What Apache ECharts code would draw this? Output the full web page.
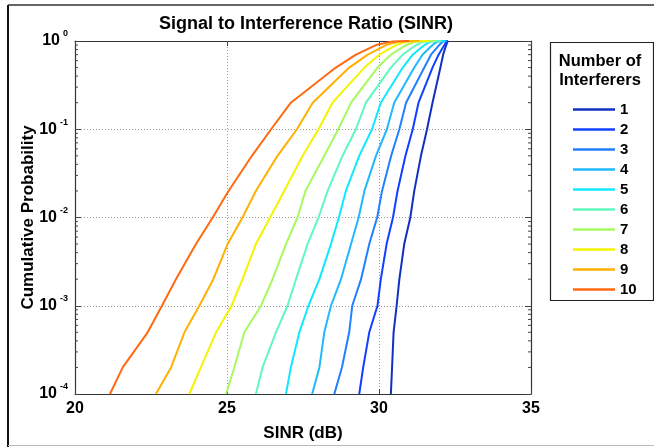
<!DOCTYPE html>
<html>
<head>
<meta charset="utf-8">
<script src="https://cdn.jsdelivr.net/npm/echarts@6/dist/echarts.min.js"></script>
<style>html,body{margin:0;padding:0;background:#fff;}#c{width:654px;height:447px;}</style>
</head>
<body>
<div id="c"></div>
<script>
// Cumulative probability levels at which the SINR of each curve was read
const PROB = [1e-4, 2e-4, 5e-4, 1e-3, 2e-3, 5e-3, 1e-2, 2e-2, 5e-2, 0.1, 0.2, 0.5, 0.7, 0.9, 0.99, 1];
// SINR (dB) for each number of interferers at those levels
const sinr1  = [30.39, 30.43, 30.48, 30.58, 30.67, 30.83, 31.03, 31.16, 31.38, 31.58, 31.76, 32.02, 32.11, 32.21, 32.26, 32.28];
const sinr2  = [29.35, 29.48, 29.68, 29.95, 30.06, 30.25, 30.46, 30.61, 30.87, 31.11, 31.30, 31.76, 31.96, 32.15, 32.22, 32.27];
const sinr3  = [28.53, 28.78, 29.02, 29.12, 29.41, 29.68, 29.94, 30.10, 30.40, 30.67, 30.89, 31.49, 31.71, 31.98, 32.11, 32.24];
const sinr4  = [27.80, 28.04, 28.20, 28.42, 28.75, 29.08, 29.33, 29.52, 29.90, 30.26, 30.50, 31.16, 31.43, 31.76, 31.93, 32.20];
const sinr5  = [26.94, 27.10, 27.38, 27.68, 28.04, 28.42, 28.68, 28.91, 29.35, 29.77, 30.06, 30.78, 31.11, 31.49, 31.71, 32.15];
const sinr6  = [25.95, 26.17, 26.61, 26.99, 27.27, 27.65, 28.01, 28.31, 28.80, 29.24, 29.57, 30.39, 30.78, 31.22, 31.49, 32.04];
const sinr7  = [24.97, 25.24, 25.57, 26.12, 26.50, 26.94, 27.32, 27.58, 28.20, 28.66, 29.08, 29.95, 30.39, 30.89, 31.22, 31.87];
const sinr8  = [23.76, 24.14, 24.64, 25.15, 25.51, 25.95, 26.42, 26.88, 27.49, 28.01, 28.47, 29.52, 30.01, 30.56, 30.94, 31.65];
const sinr9  = [22.66, 23.16, 23.60, 24.09, 24.55, 25.02, 25.51, 25.95, 26.66, 27.30, 27.82, 29.02, 29.63, 30.23, 30.67, 31.33];
const sinr10 = [21.15, 21.57, 22.39, 22.86, 23.32, 23.98, 24.53, 25.05, 25.82, 26.45, 27.10, 28.58, 29.24, 29.90, 30.45, 31.00];
const NAMES = ['1', '2', '3', '4', '5', '6', '7', '8', '9', '10'];
const X_TICKS = [20, 25, 30, 35];
const Y_MINOR = [2, 3, 4, 5, 6, 7, 8, 9];
const Y_DECADES = [1e-4, 1e-3, 1e-2, 1e-1];

const SERIES_VALUES = [sinr1, sinr2, sinr3, sinr4, sinr5, sinr6, sinr7, sinr8, sinr9, sinr10];
const COLORS = ['#1030c0', '#1040ff', '#2080ff', '#20b8ff', '#10e8ff', '#60f8c0', '#a8f860', '#f4f400', '#ffb000', '#ff6a10'];

const FONT = '"Liberation Sans", Arial, Helvetica, sans-serif';

const minorVals = [];
Y_DECADES.forEach(d => Y_MINOR.forEach(k => minorVals.push(d * k)));

const lineSeries = NAMES.map((n, i) => ({
  name: n,
  type: 'line',
  xAxisIndex: 0, yAxisIndex: 0,
  data: SERIES_VALUES[i].map((x, j) => [x, PROB[j]]),
  symbol: 'none',
  showSymbol: false,
  lineStyle: { width: 2, color: COLORS[i] },
  itemStyle: { color: COLORS[i] },
  z: 3 + i,
  animation: false
}));

const minorTickSeries = {
  type: 'custom',
  xAxisIndex: 0, yAxisIndex: 0,
  silent: true,
  animation: false,
  clip: false,
  data: minorVals.map(v => [X_TICKS[0], v]),
  renderItem: function (params, api) {
    const v = api.value(1);
    const pl = api.coord([X_TICKS[0], v]);
    const pr = api.coord([X_TICKS[X_TICKS.length - 1], v]);
    const st = { stroke: '#444', lineWidth: 1 };
    return {
      type: 'group',
      children: [
        { type: 'line', shape: { x1: pl[0], y1: pl[1], x2: pl[0] + 3, y2: pl[1] }, style: st },
        { type: 'line', shape: { x1: pr[0], y1: pr[1], x2: pr[0] - 3, y2: pr[1] }, style: st }
      ]
    };
  },
  z: 20
};

const axisLineStyle = { color: '#333', width: 1.2 };

const option = {
  backgroundColor: '#fff',
  animation: false,
  title: {
    text: 'Signal to Interference Ratio (SINR)',
    left: 301, top: 10, textAlign: 'center',
    textStyle: { fontFamily: FONT, fontWeight: 'bold', fontSize: 18, color: '#000' }
  },
  grid: { left: 75, right: 123, top: 41, bottom: 50 },
  xAxis: [{
    type: 'value', min: 20, max: 35, interval: 5,
    position: 'bottom',
    name: 'SINR (dB)', nameLocation: 'middle', nameGap: 31, nameMoveOverlap: false,
    nameTextStyle: { fontFamily: FONT, fontWeight: 'bold', fontSize: 17, color: '#000' },
    axisLine: { show: true, lineStyle: axisLineStyle },
    axisTick: { show: true, inside: true, length: 5, lineStyle: { color: '#444' } },
    axisLabel: { fontFamily: FONT, fontWeight: 'bold', fontSize: 16, color: '#000', margin: 7 },
    splitLine: { show: true, lineStyle: { color: '#999', type: [1, 2], width: 1 } }
  }, {
    type: 'value', min: 20, max: 35, interval: 5,
    position: 'top',
    axisLine: { show: true, onZero: false, lineStyle: axisLineStyle },
    axisTick: { show: true, inside: true, length: 5, lineStyle: { color: '#444' } },
    axisLabel: { show: false },
    splitLine: { show: false }
  }],
  yAxis: [{
    type: 'log', logBase: 10, min: 1e-4, max: 1,
    position: 'left',
    name: 'Cumulative Probability', nameLocation: 'middle', nameGap: 38, nameMoveOverlap: false,
    nameTextStyle: { fontFamily: FONT, fontWeight: 'bold', fontSize: 17, color: '#000' },
    axisLine: { show: true, lineStyle: axisLineStyle },
    axisTick: { show: true, inside: true, length: 6, lineStyle: { color: '#444' } },
    axisLabel: {
      margin: 7,
      formatter: function (v) {
        const e = Math.round(Math.log10(v));
        return '{b|10}{e|' + e + '}';
      },
      rich: {
        b: { fontFamily: FONT, fontWeight: 'bold', fontSize: 16, color: '#000', lineHeight: 16 },
        e: { fontFamily: FONT, fontWeight: 'bold', fontSize: 9, color: '#000', padding: [0, 0, 14, 3] }
      }
    },
    splitLine: { show: true, lineStyle: { color: '#999', type: [1, 2], width: 1 } }
  }, {
    type: 'log', logBase: 10, min: 1e-4, max: 1,
    position: 'right',
    axisLine: { show: true, onZero: false, lineStyle: axisLineStyle },
    axisTick: { show: true, inside: true, length: 6, lineStyle: { color: '#444' } },
    axisLabel: { show: false },
    splitLine: { show: false }
  }],
  legend: {
    data: NAMES,
    orient: 'vertical',
    left: 568, top: 97,
    icon: 'rect',
    itemWidth: 42, itemHeight: 2.5, itemGap: 5.0,
    textStyle: { fontFamily: FONT, fontWeight: 'bold', fontSize: 15, color: '#000', lineHeight: 14 },
    selectedMode: false
  },
  graphic: [
    { type: 'rect', left: 548, top: 40, shape: { width: 103, height: 258 },
      style: { fill: 'none', stroke: '#222', lineWidth: 1.2 }, z: 1 },
    { type: 'text', position: [600, 61], style: { text: 'Number of', textAlign: 'center', textVerticalAlign: 'middle',
      font: 'bold 16.5px ' + FONT, fill: '#000' } },
    { type: 'text', position: [600, 80], style: { text: 'Interferers', textAlign: 'center', textVerticalAlign: 'middle',
      font: 'bold 16.5px ' + FONT, fill: '#000' } },
    { type: 'line', shape: { x1: 8, y1: 5, x2: 8, y2: 447 }, style: { stroke: '#111', lineWidth: 2 } },
    { type: 'line', shape: { x1: 8, y1: 5, x2: 654, y2: 5 }, style: { stroke: '#333', lineWidth: 1.5 } },
    { type: 'line', shape: { x1: 8, y1: 445.5, x2: 654, y2: 445.5 }, style: { stroke: '#bbb', lineWidth: 1 } }
  ],
  series: lineSeries.concat([minorTickSeries])
};

const chart = echarts.init(document.getElementById('c'), null, { renderer: 'canvas' });
chart.setOption(option);
</script>
</body>
</html>
